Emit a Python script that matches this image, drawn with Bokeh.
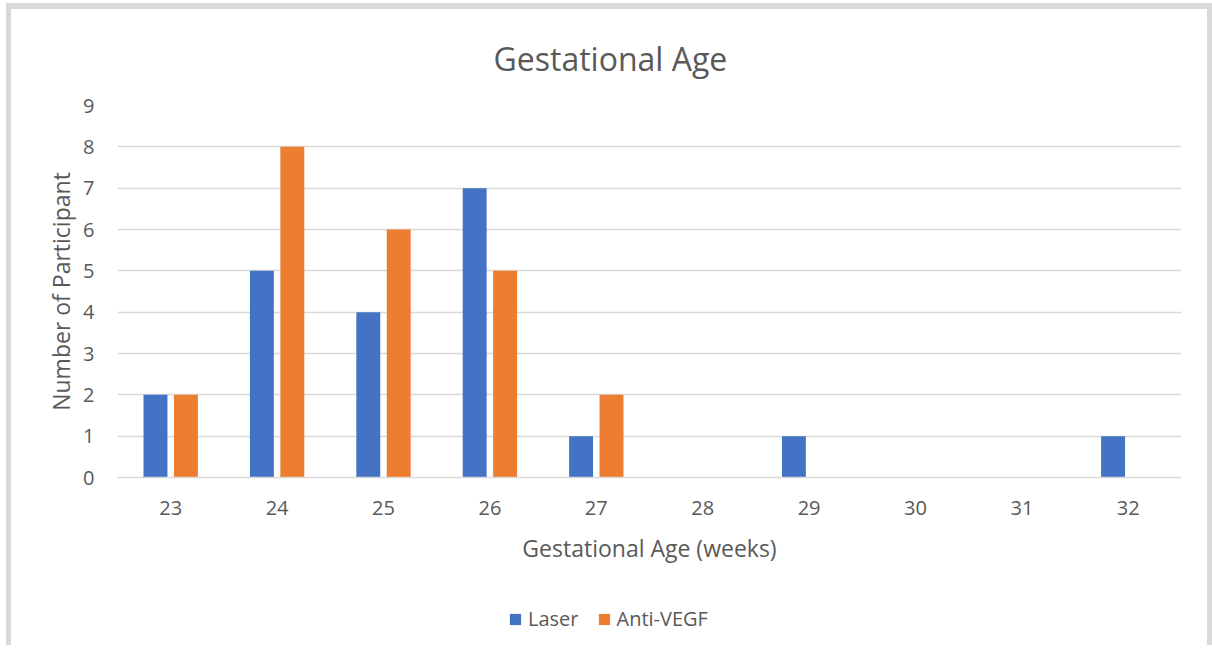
from bokeh.plotting import figure
from bokeh.layouts import column
from bokeh.models import ColumnDataSource, FixedTicker, Legend, LegendItem, Range1d
from bokeh.transform import dodge
from bokeh.embed import file_html
from bokeh.resources import INLINE

# ---- data ----
weeks = [23, 24, 25, 26, 27, 28, 29, 30, 31, 32]
laser = [2, 5, 4, 7, 1, 0, 1, 0, 0, 1]
anti_vegf = [2, 8, 6, 5, 2, 0, 0, 0, 0, 0]
y_ticks = [0, 1, 2, 3, 4, 5, 6, 7, 8, 9]

FONT = "Open Sans"
TXT = "#595959"
GRID = "#d9d9d9"
BLUE = "#4472C4"
ORANGE = "#ED7D31"

source = ColumnDataSource(dict(week=weeks, laser=laser, anti=anti_vegf))

W = 1196
H_MAIN = 560
H_LEG = 76

p = figure(width=W, height=H_MAIN,
           x_range=(22.5, 32.5), y_range=(0, 9),
           output_backend="svg", toolbar_location=None,
           min_border_left=106, min_border_right=26,
           min_border_top=95, min_border_bottom=H_MAIN - 468,
           title="Gestational Age")

p.outline_line_color = None
p.background_fill_color = "white"
p.border_fill_color = "white"

p.title.text_font = FONT
p.title.text_font_size = "32px"
p.title.text_font_style = "normal"
p.title.text_color = TXT
p.title.align = "left"
p.title.offset = 376
p.title.standoff = 51

r1 = p.vbar(x=dodge("week", -0.143, range=p.x_range), top="laser", width=0.225,
            source=source, fill_color=BLUE, line_color=None)
r2 = p.vbar(x=dodge("week", 0.143, range=p.x_range), top="anti", width=0.225,
            source=source, fill_color=ORANGE, line_color=None)

# axes
p.xaxis.ticker = FixedTicker(ticks=weeks)
p.yaxis.ticker = FixedTicker(ticks=y_ticks)
for ax in (p.xaxis[0], p.yaxis[0]):
    ax.major_tick_line_color = None
    ax.minor_tick_line_color = None
    ax.major_label_text_font = FONT
    ax.major_label_text_font_size = "20px"
    ax.major_label_text_color = TXT
    ax.axis_label_text_font = FONT
    ax.axis_label_text_font_size = "23px"
    ax.axis_label_text_font_style = "normal"
    ax.axis_label_text_color = TXT

p.xaxis.axis_label = "Gestational Age (weeks)"
p.yaxis.axis_label = "Number of Participant"
p.xaxis.axis_line_color = GRID
p.xaxis.axis_line_width = 1.5
p.yaxis.axis_line_color = None
p.xaxis.major_label_standoff = 17
p.xaxis.axis_label_standoff = 14
p.yaxis.major_label_standoff = 17
p.yaxis.axis_label_standoff = 3

p.xgrid.grid_line_color = None
p.ygrid.grid_line_color = GRID
p.ygrid.grid_line_width = 1.5

# legend strip below the chart (own small figure so the legend is not clipped)
q = figure(width=W, height=H_LEG, x_range=(22.5, 32.5), y_range=Range1d(100, 200),
           output_backend="svg", toolbar_location=None,
           x_axis_type=None, y_axis_type=None, min_border=0)
q.outline_line_color = None
q.xgrid.grid_line_color = None
q.ygrid.grid_line_color = None
q.background_fill_color = "white"
q.border_fill_color = "white"
l1 = q.vbar(x="week", top="laser", width=0.225, source=source, fill_color=BLUE, line_color=None)
l2 = q.vbar(x="week", top="anti", width=0.225, source=source, fill_color=ORANGE, line_color=None)

legend = Legend(items=[LegendItem(label="Laser", renderers=[l1]),
                       LegendItem(label="Anti-VEGF", renderers=[l2])],
                orientation="horizontal", location=(391, 13))
legend.glyph_width = 14
legend.glyph_height = 14
legend.label_standoff = 6
legend.spacing = 18
legend.padding = 0
legend.margin = 0
legend.border_line_color = None
legend.background_fill_alpha = 0
legend.label_text_font = FONT
legend.label_text_font_size = "20px"
legend.label_text_color = TXT
q.add_layout(legend, "center")

sh = GRID
layout = column(p, q, spacing=0,
                styles={"margin-left": "11px", "margin-top": "9px",
                        "box-shadow": f"0 -6px 0 0 {sh}, -5px 0 0 0 {sh}, 5px 0 0 0 {sh}, "
                                      f"-5px -6px 0 0 {sh}, 5px -6px 0 0 {sh}"})

open("out.html", "w").write(file_html(layout, INLINE))
